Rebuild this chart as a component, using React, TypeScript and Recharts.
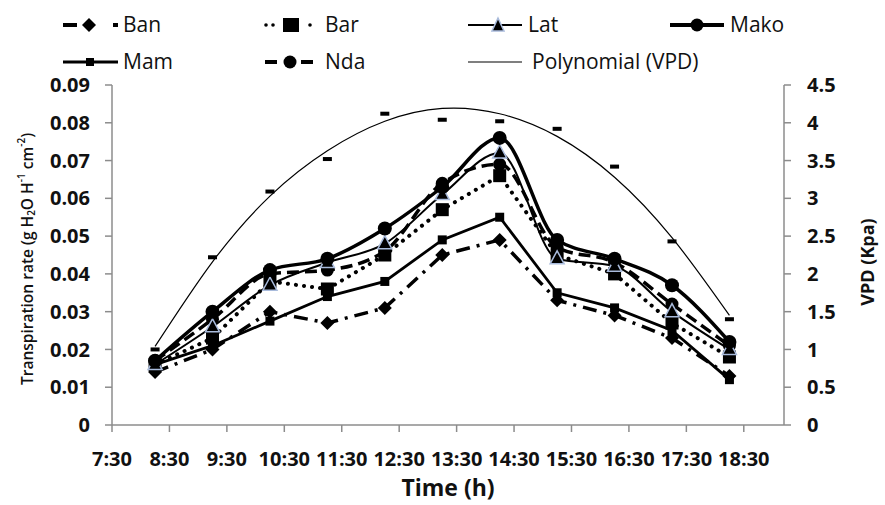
import React from "react";
import { ComposedChart, Line, XAxis, YAxis } from "recharts";

// sampling times (h), ticks every hour from 7:30
const times = [8.25, 9.25, 10.25, 11.25, 12.25, 13.25, 14.25, 15.25, 16.25, 17.25, 18.25];
const hourTicks = [7.5, 8.5, 9.5, 10.5, 11.5, 12.5, 13.5, 14.5, 15.5, 16.5, 17.5, 18.5];
const rateTicks = [0, 0.01, 0.02, 0.03, 0.04, 0.05, 0.06, 0.07, 0.08, 0.09];
const vpdTicks = [0, 0.5, 1, 1.5, 2, 2.5, 3, 3.5, 4, 4.5];

// transpiration rate per clone
const ban = [0.014, 0.02, 0.03, 0.027, 0.031, 0.045, 0.049, 0.033, 0.029, 0.023, 0.013];
const bar = [0.016, 0.023, 0.038, 0.036, 0.045, 0.057, 0.066, 0.045, 0.04, 0.027, 0.018];
const lat = [0.016, 0.026, 0.037, 0.043, 0.048, 0.061, 0.072, 0.044, 0.042, 0.03, 0.02];
const mako = [0.017, 0.03, 0.041, 0.044, 0.052, 0.063, 0.076, 0.049, 0.044, 0.037, 0.022];
const mam = [0.016, 0.021, 0.0275, 0.034, 0.038, 0.049, 0.055, 0.035, 0.031, 0.025, 0.012];
const nda = [0.017, 0.028, 0.04, 0.041, 0.046, 0.064, 0.069, 0.047, 0.043, 0.032, 0.021];

// VPD (kPa) and its polynomial trend curve
const vpd = [1.0, 2.22, 3.09, 3.52, 4.12, 4.04, 4.02, 3.92, 3.42, 2.43, 1.4];
const vpdTrend = [1.04, 2.16, 3.03, 3.63, 4.02, 4.19, 4.12, 3.82, 3.28, 2.48, 1.45];

const rows = times.map((t, i) => ({
  t,
  ban: ban[i],
  bar: bar[i],
  lat: lat[i],
  mako: mako[i],
  mam: mam[i],
  nda: nda[i],
  vpd: vpd[i],
  trend: vpdTrend[i],
}));

const FONT = "'Open Sans', sans-serif";
const AXIS = "#8c8c8c";
const TRI = "#a9bbdc";

const diamond = (p: any) => (
  <polygon
    key={`ban-${p.index}`}
    points={`${p.cx},${p.cy - 7} ${p.cx + 7},${p.cy} ${p.cx},${p.cy + 7} ${p.cx - 7},${p.cy}`}
    fill="#000"
  />
);
const square = (s: number, name: string) => (p: any) => (
  <rect key={`${name}-${p.index}`} x={p.cx - s / 2} y={p.cy - s / 2} width={s} height={s} fill="#000" />
);
const circle = (r: number, name: string) => (p: any) => (
  <circle key={`${name}-${p.index}`} cx={p.cx} cy={p.cy} r={r} fill="#000" />
);
const triangle = (p: any) => (
  <polygon
    key={`lat-${p.index}`}
    points={`${p.cx},${p.cy - 8} ${p.cx + 7},${p.cy + 5} ${p.cx - 7},${p.cy + 5}`}
    fill="#000"
    stroke={TRI}
    strokeWidth={1.5}
  />
);
const dash = (p: any) => (
  <rect key={`vpd-${p.index}`} x={p.cx - 4.5} y={p.cy - 2} width={9} height={4} fill="#000" />
);

const leftTitle = (props: any) => {
  const vb = props.viewBox;
  const x = 27;
  const y = vb.y + vb.height / 2 + 4;
  return (
    <text
      x={x}
      y={y}
      transform={`rotate(-90 ${x} ${y})`}
      textAnchor="middle"
      dominantBaseline="central"
      fontFamily={FONT}
      fontSize={15.5}
      fontWeight={600}
      fill="#111"
    >
      Transpiration rate (g H
      <tspan dy={4} fontSize={10}>2</tspan>
      <tspan dy={-4}>O H</tspan>
      <tspan dy={-6} fontSize={10}>-1</tspan>
      <tspan dy={6}> cm</tspan>
      <tspan dy={-6} fontSize={10}>-2</tspan>
      <tspan dy={6}>)</tspan>
    </text>
  );
};

const rightTitle = (props: any) => {
  const vb = props.viewBox;
  const x = 867;
  const y = vb.y + vb.height / 2 + 7;
  return (
    <text
      x={x}
      y={y}
      transform={`rotate(-90 ${x} ${y})`}
      textAnchor="middle"
      dominantBaseline="central"
      fontFamily={FONT}
      fontSize={18}
      fontWeight={700}
      fill="#111"
    >
      VPD (Kpa)
    </text>
  );
};

const timeTitle = () => (
  <text x={448} y={496} textAnchor="middle" fontFamily={FONT} fontSize={23} fontWeight={700} fill="#111">
    Time (h)
  </text>
);

type LegendItem = { label: string; left: number; top: number; textLeft: number; icon: React.ReactNode };

const legendItems: LegendItem[] = [
  {
    label: "Ban",
    left: 63,
    top: 15,
    textLeft: 123,
    icon: (
      <>
        <line x1={0} y1={10} x2={14} y2={10} stroke="#000" strokeWidth={4} />
        <polygon points="26,3 33,10 26,17 19,10" fill="#000" />
        <rect x={50} y={8} width={5} height={4} fill="#000" />
      </>
    ),
  },
  {
    label: "Bar",
    left: 263,
    top: 15,
    textLeft: 325,
    icon: (
      <>
        <circle cx={3} cy={10} r={1.8} fill="#000" />
        <circle cx={10} cy={10} r={1.8} fill="#000" />
        <rect x={20} y={3} width={16} height={14} fill="#000" />
        <circle cx={47} cy={10} r={1.8} fill="#000" />
      </>
    ),
  },
  {
    label: "Lat",
    left: 468,
    top: 15,
    textLeft: 528,
    icon: (
      <>
        <line x1={0} y1={10} x2={54} y2={10} stroke="#000" strokeWidth={2} />
        <polygon points="30,3 36,16 24,16" fill="#000" stroke={TRI} strokeWidth={1.5} />
      </>
    ),
  },
  {
    label: "Mako",
    left: 670,
    top: 15,
    textLeft: 730,
    icon: (
      <>
        <line x1={0} y1={10} x2={54} y2={10} stroke="#000" strokeWidth={4} />
        <circle cx={27} cy={10} r={6.5} fill="#000" />
      </>
    ),
  },
  {
    label: "Mam",
    left: 63,
    top: 52,
    textLeft: 123,
    icon: (
      <>
        <line x1={0} y1={10} x2={55} y2={10} stroke="#000" strokeWidth={3} />
        <rect x={23} y={6} width={8} height={8} fill="#000" />
      </>
    ),
  },
  {
    label: "Nda",
    left: 265,
    top: 52,
    textLeft: 325,
    icon: (
      <>
        <line x1={0} y1={10} x2={12} y2={10} stroke="#000" strokeWidth={4} />
        <circle cx={25} cy={10} r={6.5} fill="#000" />
        <line x1={36} y1={10} x2={48} y2={10} stroke="#000" strokeWidth={4} />
      </>
    ),
  },
  {
    label: "Polynomial (VPD)",
    left: 468,
    top: 52,
    textLeft: 532,
    icon: <line x1={0} y1={10} x2={54} y2={10} stroke="#000" strokeWidth={1.2} />,
  },
];

function ChartLegend() {
  return (
    <>
      {legendItems.map((it) => (
        <React.Fragment key={it.label}>
          <svg
            width={58}
            height={20}
            style={{ position: "absolute", left: it.left, top: it.top }}
          >
            {it.icon}
          </svg>
          <span
            style={{
              position: "absolute",
              left: it.textLeft,
              top: it.top - 6,
              fontFamily: FONT,
              fontSize: 21,
              lineHeight: "30px",
              color: "#111",
              whiteSpace: "nowrap",
            }}
          >
            {it.label}
          </span>
        </React.Fragment>
      ))}
    </>
  );
}

const tickStyle = { fontFamily: FONT, fontSize: 20, fontWeight: 700, fill: "#111" };

export default function App() {
  return (
    <div style={{ position: "absolute", left: 0, top: 0, width: 885, height: 505, background: "#fff" }}>
      <ChartLegend />
      <ComposedChart width={885} height={505} data={rows} margin={{ top: 85, right: 0, bottom: 0, left: 0 }}>
        <XAxis
          dataKey="t"
          type="number"
          domain={[7.5, 19.2]}
          ticks={hourTicks}
          tickFormatter={(h: number) => `${Math.floor(h)}:30`}
          interval={0}
          height={80}
          tick={tickStyle}
          tickSize={7}
          tickMargin={20}
          axisLine={{ stroke: AXIS, strokeWidth: 1.5 }}
          tickLine={{ stroke: AXIS, strokeWidth: 1.5 }}
          label={timeTitle}
        />
        <YAxis
          yAxisId="rate"
          domain={[0, 0.09]}
          ticks={rateTicks}
          interval={0}
          tickFormatter={(v: number) => (v === 0 ? "0" : v.toFixed(2))}
          width={112}
          tick={tickStyle}
          tickSize={7}
          tickMargin={15}
          axisLine={{ stroke: AXIS, strokeWidth: 1.5 }}
          tickLine={{ stroke: AXIS, strokeWidth: 1.5 }}
          label={leftTitle}
        />
        <YAxis
          yAxisId="vpd"
          orientation="right"
          domain={[0, 4.5]}
          ticks={vpdTicks}
          interval={0}
          tickFormatter={(v: number) => String(v)}
          width={101}
          tick={tickStyle}
          tickSize={7}
          tickMargin={16}
          axisLine={{ stroke: AXIS, strokeWidth: 1.5 }}
          tickLine={{ stroke: AXIS, strokeWidth: 1.5 }}
          label={rightTitle}
        />
        <Line
          yAxisId="vpd"
          dataKey="trend"
          type="natural"
          stroke="#000"
          strokeWidth={1.2}
          dot={false}
          activeDot={false}
          isAnimationActive={false}
        />
        <Line
          yAxisId="vpd"
          dataKey="vpd"
          stroke="none"
          dot={dash}
          activeDot={false}
          isAnimationActive={false}
        />
        <Line
          yAxisId="rate"
          dataKey="ban"
          type="linear"
          stroke="#000"
          strokeWidth={3.5}
          strokeDasharray="14 7 3 7"
          dot={diamond}
          activeDot={false}
          isAnimationActive={false}
        />
        <Line
          yAxisId="rate"
          dataKey="mam"
          type="linear"
          stroke="#000"
          strokeWidth={2.8}
          dot={square(9, "mam")}
          activeDot={false}
          isAnimationActive={false}
        />
        <Line
          yAxisId="rate"
          dataKey="bar"
          type="linear"
          stroke="#000"
          strokeWidth={4}
          strokeLinecap="round"
          strokeDasharray="0.1 8"
          dot={square(13, "bar")}
          activeDot={false}
          isAnimationActive={false}
        />
        <Line
          yAxisId="rate"
          dataKey="nda"
          type="monotone"
          stroke="#000"
          strokeWidth={3.5}
          strokeDasharray="12 6"
          dot={circle(6.5, "nda")}
          activeDot={false}
          isAnimationActive={false}
        />
        <Line
          yAxisId="rate"
          dataKey="lat"
          type="monotone"
          stroke="#000"
          strokeWidth={2}
          dot={triangle}
          activeDot={false}
          isAnimationActive={false}
        />
        <Line
          yAxisId="rate"
          dataKey="mako"
          type="monotone"
          stroke="#000"
          strokeWidth={3.5}
          dot={circle(7, "mako")}
          activeDot={false}
          isAnimationActive={false}
        />
      </ComposedChart>
    </div>
  );
}
